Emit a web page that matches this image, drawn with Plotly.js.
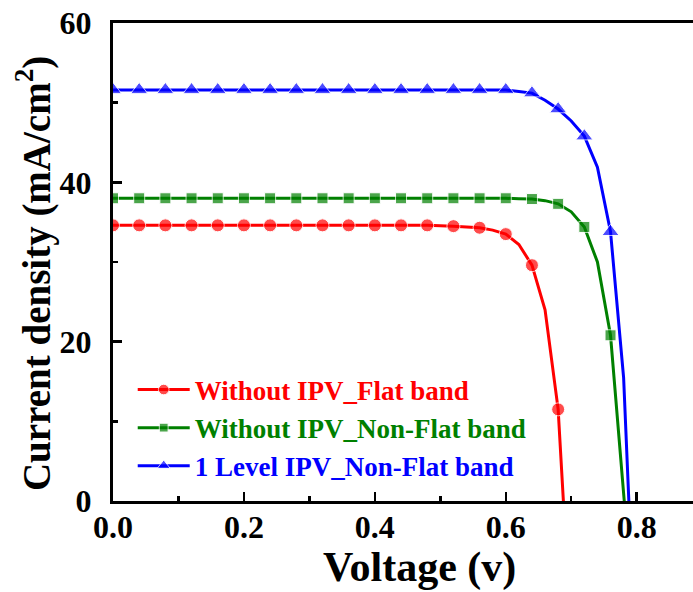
<!DOCTYPE html>
<html>
<head>
<meta charset="utf-8">
<script src="https://cdn.plot.ly/plotly-3.0.1.min.js"></script>
<style>
  html, body { margin: 0; padding: 0; background: #ffffff; }
  #chart { width: 693px; height: 592px; }
</style>
</head>
<body>
<div id="chart"></div>
<script>
// J–V characteristics: voltage (V) vs current density (mA/cm²)
const redName   = 'Without IPV_Flat band';
const greenName = 'Without IPV_Non-Flat band';
const blueName  = '1 Level IPV_Non-Flat band';

const redV = [0, 0.04, 0.08, 0.12, 0.16, 0.20, 0.24, 0.28, 0.32, 0.36, 0.40, 0.44, 0.48, 0.52, 0.56,
              0.58, 0.60, 0.62, 0.64, 0.66, 0.68, 0.688];
const redJ = [34.6, 34.6, 34.6, 34.6, 34.6, 34.6, 34.6, 34.6, 34.6, 34.6, 34.6, 34.6, 34.6, 34.5, 34.3,
              34.0, 33.5, 32.2, 29.6, 24.0, 11.5, 0];

const greenV = [0, 0.04, 0.08, 0.12, 0.16, 0.20, 0.24, 0.28, 0.32, 0.36, 0.40, 0.44, 0.48, 0.52, 0.56, 0.60,
                0.62, 0.64, 0.66, 0.68, 0.70, 0.72, 0.74, 0.76, 0.781];
const greenJ = [38.0, 38.0, 38.0, 38.0, 38.0, 38.0, 38.0, 38.0, 38.0, 38.0, 38.0, 38.0, 38.0, 38.0, 38.0, 38.0,
                37.95, 37.9, 37.7, 37.3, 36.3, 34.4, 30.0, 20.8, 0];

const blueV = [0, 0.04, 0.08, 0.12, 0.16, 0.20, 0.24, 0.28, 0.32, 0.36, 0.40, 0.44, 0.48, 0.52, 0.56, 0.60,
               0.62, 0.64, 0.66, 0.68, 0.70, 0.72, 0.74, 0.76, 0.78, 0.788];
const blueJ = [51.6, 51.6, 51.6, 51.6, 51.6, 51.6, 51.6, 51.6, 51.6, 51.6, 51.6, 51.6, 51.6, 51.6, 51.6, 51.6,
               51.4, 51.2, 50.3, 49.2, 47.7, 45.8, 41.9, 33.8, 15.5, 0];

const xTicks = [0, 0.2, 0.4, 0.6, 0.8];
const xTickText = ['0.0', '0.2', '0.4', '0.6', '0.8'];
const yTicks = [0, 20, 40, 60];
const yTickText = ['0', '20', '40', '60'];

const xTitle = 'Voltage (v)';
const yTitle = 'Current density (mA/cm<sup>2</sup>)';

// symbols sit on every 0.04 V sample; the in-between samples only shape the line
function markerSizes(v, size) {
  return v.map(x => Math.abs(x / 0.04 - Math.round(x / 0.04)) < 1e-6 ? size : 0);
}

const FONT = 'Liberation Serif, Times New Roman, serif';

function series(v, j, name, color, symbol, size) {
  return {
    x: v, y: j, name: '<span style="color:' + color + '">' + name + '</span>',
    type: 'scatter', mode: 'lines+markers',
    line: { color: color, width: 3, simplify: false },
    marker: { color: color, symbol: symbol, size: markerSizes(v, size) },
    cliponaxis: true
  };
}

const traces = [
  series(redV, redJ, redName, '#ff0000', 'circle', 13),
  series(greenV, greenJ, greenName, '#008000', 'square', 11),
  series(blueV, blueJ, blueName, '#0000ff', 'triangle-up', 15)
];

const layout = {
  width: 693, height: 592,
  margin: { l: 113, r: 0, t: 23, b: 91, pad: 0 },
  paper_bgcolor: '#ffffff', plot_bgcolor: '#ffffff',
  font: { family: FONT, color: '#000000', weight: 'bold' },
  showlegend: true,
  legend: {
    x: 0.034, y: 0.022, xanchor: 'left', yanchor: 'bottom',
    bgcolor: 'rgba(0,0,0,0)', borderwidth: 0,
    itemwidth: 52,
    font: { family: FONT, size: 27, weight: 'bold' },
    tracegroupgap: 0
  },
  xaxis: {
    range: [0, 0.886], autorange: false,
    tickvals: xTicks, ticktext: xTickText,
    ticks: 'inside', ticklen: 9, tickwidth: 2.5, tickcolor: '#000',
    minor: { dtick: 0.1, tick0: 0, ticks: 'inside', ticklen: 5, tickwidth: 2.5, tickcolor: '#000' },
    showline: true, linewidth: 3, linecolor: '#000', mirror: true,
    showgrid: false, zeroline: false,
    tickfont: { family: FONT, size: 32, weight: 'bold' },
    ticklabelstandoff: -4
  },
  yaxis: {
    range: [0, 60], autorange: false,
    tickvals: yTicks, ticktext: yTickText,
    ticks: 'inside', ticklen: 9, tickwidth: 2.5, tickcolor: '#000',
    minor: { dtick: 10, tick0: 0, ticks: 'inside', ticklen: 5, tickwidth: 2.5, tickcolor: '#000' },
    showline: true, linewidth: 3, linecolor: '#000', mirror: false,
    showgrid: false, zeroline: false,
    tickfont: { family: FONT, size: 32, weight: 'bold' },
    ticklabelstandoff: 12
  },
  // axis titles placed as paper-anchored annotations
  annotations: [
    {
      text: xTitle, xref: 'paper', yref: 'paper', x: 0.529, y: -0.139,
      xanchor: 'center', yanchor: 'middle', showarrow: false,
      font: { family: FONT, size: 42, weight: 'bold', color: '#000' }
    },
    {
      text: yTitle, xref: 'paper', yref: 'paper', x: -0.136, y: 0.475,
      xanchor: 'center', yanchor: 'middle', showarrow: false, textangle: -90,
      font: { family: FONT, size: 39, weight: 'bold', color: '#000' }
    }
  ]
};

Plotly.newPlot('chart', traces, layout, { displayModeBar: false, staticPlot: true });
</script>
</body>
</html>
